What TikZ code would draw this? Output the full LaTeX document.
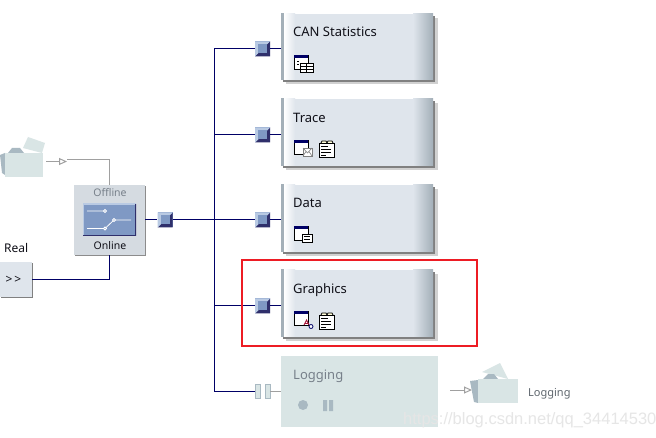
\documentclass[tikz,border=0pt]{standalone}
\usepackage{fontspec}
\setmainfont{Noto Sans}
\newfontfamily\markfont{Liberation Sans}
\usepackage{xcolor}
\usetikzlibrary{arrows.meta,calc,positioning,shadows}
\definecolor{BlockFill}{HTML}{DFE5EC}
\definecolor{EdgeGrey}{HTML}{A3AFB8}
\definecolor{PaleTeal}{HTML}{D9E5E5}
\definecolor{SlateGrey}{HTML}{A9B9C2}
\definecolor{Navy}{HTML}{000066}
\definecolor{TapBlue}{HTML}{7F99C4}
\definecolor{TapLight}{HTML}{B9CAE3}
\definecolor{TapDark}{HTML}{2F2F6B}
\definecolor{WireGrey}{HTML}{A0A0A0}
\definecolor{MarkRed}{HTML}{ED1C24}
\definecolor{TextInk}{HTML}{101018}
\definecolor{FadeInk}{HTML}{77808A}
\definecolor{MarkGrey}{HTML}{E6E6E6}
\tikzset{
  block/.style={minimum width=152pt,minimum height=66pt,inner sep=0pt,fill=BlockFill,general shadow={shadow xshift=5pt,shadow yshift=-4pt,fill=black!18},general shadow={shadow xshift=2pt,shadow yshift=-2pt,fill=black!50},path picture={
    \shade[left color=EdgeGrey,right color=white] (path picture bounding box.north west) rectangle ([xshift=3pt]path picture bounding box.south west);
    \shade[left color=white,right color=BlockFill] ([xshift=3pt]path picture bounding box.north west) rectangle ([xshift=14pt]path picture bounding box.south west);
    \shade[left color=BlockFill,right color=EdgeGrey] ([xshift=-20pt]path picture bounding box.north east) rectangle (path picture bounding box.south east);}},
  tap/.style={minimum size=15pt,inner sep=0pt,fill=TapBlue,path picture={
    \fill[TapDark] (path picture bounding box.north east)--(path picture bounding box.south east)--(path picture bounding box.south west)--cycle;
    \fill[TapLight] (path picture bounding box.north west)--(path picture bounding box.north east)--(path picture bounding box.south west)--cycle;
    \fill[TapBlue] ([shift={(3pt,-3pt)}]path picture bounding box.north west) rectangle ([shift={(-3pt,3pt)}]path picture bounding box.south east);}},
  wire/.style={draw=Navy,line width=1pt},
  greywire/.style={draw=WireGrey,line width=1pt},
  openarrow/.style={-{Triangle[open,length=8pt,width=7pt,fill=white]},draw=WireGrey,line width=1pt},
  blocklabel/.style={font=\fontsize{13}{15}\selectfont,text=TextInk,inner sep=0pt,anchor=base west},
  winicon/.pic={\draw[black,fill=white,line width=.8pt] (0,0) rectangle (14,14); \fill[Navy] (0,0) rectangle (14,3);},
  noteicon/.pic={\draw[black,fill=white,line width=.9pt] (0,2) rectangle (15,16); \draw[black,fill=yellow!15,line width=.7pt] (2,2)--(3,0)--(7,0)--(8,2) (8,2)--(9,0)--(13,0)--(14,2); \foreach \ly/\lx in {5/9,8/12,11/12,14/7} \draw[black,line width=.8pt] (2,\ly)--(\lx,\ly);}
}
\begin{document}
\begin{tikzpicture}[x=1pt,y=-1pt]
\useasboundingbox (0,0) rectangle (656,438);
\fill[white] (0,0) rectangle (656,438);

% function blocks
\node[block] (can) at (357,47) {}; \node[block,minimum height=67pt] (trace) at (357,132.5) {}; \node[block,minimum height=67pt] (data) at (357,218.5) {}; \node[block,minimum height=67pt] (graphics) at (357,303.5) {};
\node[fill=PaleTeal,minimum width=157pt,minimum height=71pt,inner sep=0pt] (logging) at (359.5,391.5) {};
\node[blocklabel] (canlabel) at (293,36.5) {CAN Statistics}; \node[blocklabel] (tracelabel) at (293,122.5) {Trace}; \node[blocklabel] (datalabel) at (293,207.5) {Data}; \node[blocklabel] (graphicslabel) at (293,293.5) {Graphics};
\node[blocklabel,text=FadeInk] (logginglabel) at (293,379) {Logging};

% taps and bus
\node[tap] (tapcan) at (262.5,49) {}; \node[tap] (taptrace) at (262.5,135) {}; \node[tap] (tapdata) at (262.5,220) {}; \node[tap] (tapgraphics) at (262.5,306) {}; \node[tap] (tapswitch) at (165,220) {};
\coordinate (buscan) at (214,49); \coordinate (bustrace) at (214,135); \coordinate (busdata) at (214,220); \coordinate (busgraphics) at (214,306); \coordinate (buslog) at (214,391);
\draw[wire] (buscan)--(tapcan)--(can.west|-tapcan); \draw[wire] (buscan)--(buslog)--(255,391);
\draw[wire] (bustrace)--(taptrace)--(trace.west|-taptrace); \draw[wire] (busdata)--(tapdata)--(data.west|-tapdata); \draw[wire] (busgraphics)--(tapgraphics)--(graphics.west|-tapgraphics);
\node[fill=PaleTeal,draw=SlateGrey,line width=.5pt,minimum width=5pt,minimum height=14pt,inner sep=0pt] (gapleft) at (257.5,391) {}; \node[fill=PaleTeal,draw=SlateGrey,line width=.5pt,minimum width=5pt,minimum height=14pt,inner sep=0pt] (gapright) at (267.5,391) {};
\draw[greywire] (gapright)--(logging.west|-gapright);

% offline/online switch
\node[fill=BlockFill!90!gray,minimum width=71pt,minimum height=70pt,inner sep=0pt,general shadow={shadow xshift=1pt,shadow yshift=-1pt,fill=black!45}] (switch) at (109.5,220) {};
\node[fill=TapBlue,draw=none,minimum width=53pt,minimum height=32pt,inner sep=0pt,path picture={\draw[TapLight,line width=2pt] (path picture bounding box.south west)--(path picture bounding box.north west)--(path picture bounding box.north east); \draw[TapDark,line width=2pt] (path picture bounding box.north east)--(path picture bounding box.south east)--(path picture bounding box.south west);}] (switchface) at (109.5,220) {};
\draw[white,line width=.8pt] (87,211)--(105,211) (87,228.5)--(105,228.5)--(114,220)--(131,220);
\foreach \cx/\cy in {105/211,105/228.5,114/220} \draw[white,fill=TapBlue,line width=.8pt] (\cx,\cy) circle (1.5);
\node[font=\fontsize{10.5}{12}\selectfont,text=FadeInk,inner sep=0pt] (offlinelabel) at (110,193) {Offline}; \node[font=\fontsize{10.5}{12}\selectfont,text=TextInk,inner sep=0pt] (onlinelabel) at (110,246) {Online};
\draw[wire] (switch)--(tapswitch)--(busdata);

% real input
\node[fill=BlockFill,minimum width=32pt,minimum height=35pt,inner sep=0pt,general shadow={shadow xshift=1pt,shadow yshift=-1pt,fill=black!50}] (realbutton) at (16,279.5) {};
\node[font=\fontsize{12}{14}\selectfont,text=TextInk,inner sep=0pt] (realmark) at (13.5,280) {>\,>}; \node[blocklabel,font=\fontsize{12}{14}\selectfont] (reallabel) at (4,253) {Real};
\draw[wire] (realbutton.east)-|(switch.south);

% offline source folder
\fill[PaleTeal] (23,148)--(28,137)--(45,143)--(42,153)--cycle; \fill[SlateGrey] (8,153)--(12,148)--(20,148)--(24,153)--cycle; \fill[SlateGrey] (0,155)--(5,153)--(5,175)--(2,173)--cycle; \fill[PaleTeal] (5,153) rectangle (43,177);
\coordinate (sourceout) at (46,161.5); \coordinate (sourcetip) at (67,161.5); \coordinate (sourceturn) at (67,160);
\draw[openarrow] (sourceout)--(sourcetip); \draw[greywire] (sourceturn)-|(switch.north);

% icons
\pic at (294,55) {winicon}; \draw[black,fill=white,line width=.7pt] (300,63) rectangle (313,72); \draw[black,line width=.7pt] (300,66)--(313,66) (306.5,63)--(306.5,72) (300,69)--(313,69); \draw[black,line width=.7pt] (297,61)--(299,61) (297,64)--(299,64);
\pic at (294,140) {winicon}; \draw[gray,fill=white,line width=.7pt] (303,148) rectangle (312,156); \draw[gray,line width=.6pt] (303,148)--(307.5,153)--(312,148) (303,156)--(306,151.5) (312,156)--(309,151.5); \pic at (319,141) {noteicon};
\pic at (294,226) {winicon}; \draw[black,fill=white,line width=.7pt] (302,234) rectangle (312,242); \draw[black,line width=.6pt] (304,236.5)--(310,236.5) (304,239)--(310,239);
\pic at (294,311) {winicon}; \draw[MarkRed!70!Navy,line width=.9pt] (304,325)--(306.5,320)--(309,325) (305,323.5)--(308,323.5); \draw[Navy,fill=white,line width=.8pt] (311,326.5) circle (2); \pic at (319,313) {noteicon};
\fill[SlateGrey] (303,405) circle (5); \fill[SlateGrey] (323,400) rectangle (327,411) (329,400) rectangle (333,411);

% logging output
\coordinate (logout) at (450,390); \coordinate (logtip) at (472,390); \draw[openarrow] (logout)--(logtip);
\fill[PaleTeal] (482,372)--(500,363)--(508,379)--cycle; \fill[SlateGrey] (483,379)--(488,374)--(494,374)--(498,379)--cycle; \fill[SlateGrey] (470,381)--(478,380)--(478,403)--(474,402)--cycle; \fill[PaleTeal] (478,379) rectangle (518,403);
\node[blocklabel,font=\fontsize{11}{13}\selectfont,text=FadeInk!80!black] (logname) at (528,396) {Logging};

\draw[MarkRed,line width=2pt] (242,260) rectangle (477,346);
\node[font=\markfont\fontsize{16.5}{19}\selectfont,text=MarkGrey,inner sep=0pt,anchor=west] (watermark) at (403,420) {https://blog.csdn.net/qq\_34414530};
\end{tikzpicture}
\end{document}
